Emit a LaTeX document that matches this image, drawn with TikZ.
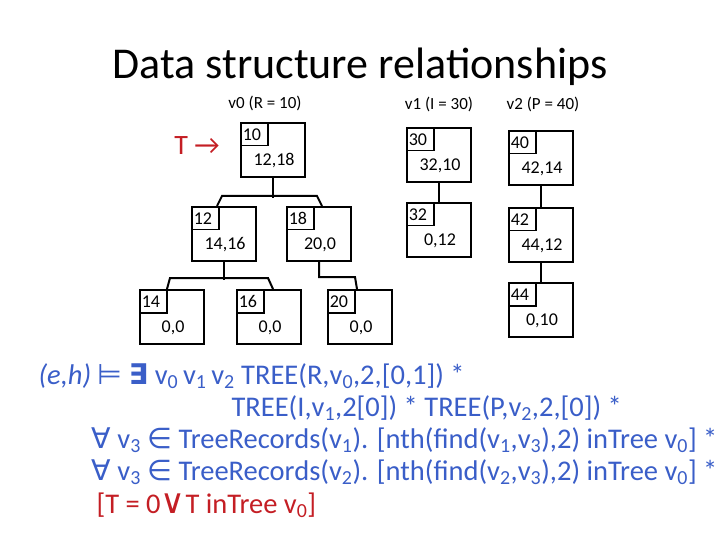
\documentclass[tikz,border=0pt]{standalone}
\usepackage{fontspec}
\setmainfont{Carlito}
\newfontfamily\symf{DejaVu Sans}
\usetikzlibrary{calc}
\definecolor{fblue}{RGB}{58,94,200}
\definecolor{fred}{RGB}{196,30,36}
\newcommand{\vv}[1]{v\textsubscript{#1}}
\tikzset{
  rec/.style={draw,line width=2pt,minimum width=64pt,minimum height=54pt,inner sep=0pt,anchor=north west},
  key/.style={draw,line width=1.5pt,minimum height=23pt,text width=23pt,inner sep=2pt,align=left,anchor=north west,font=\fontsize{18}{18}\selectfont},
  val/.style={font=\fontsize{18}{18}\selectfont},
  lab/.style={font=\fontsize{17}{17}\selectfont},
  link/.style={line width=2pt},
  fline/.style={anchor=base west,text=fblue,font=\fontsize{28.5}{28.5}\selectfont}
}
\begin{document}
\begin{tikzpicture}[x=1pt,y=-1pt]
\useasboundingbox (0,0) rectangle (720,540);
\node[anchor=base,font=\fontsize{44}{44}\selectfont] (title) at (360,79) {Data structure relationships};
% records
\node[rec] (n10) at (240,122) {};
\node[rec] (n30) at (406,127) {};
\node[rec] (n40) at (508,130) {};
\node[rec] (n12) at (191,206) {};
\node[rec] (n18) at (286,206) {};
\node[rec] (n32) at (406,202) {};
\node[rec] (n42) at (508,207) {};
\node[rec] (n14) at (139,289) {};
\node[rec] (n16) at (236,289) {};
\node[rec] (n20) at (327,289) {};
\node[rec] (n44) at (508,282) {};
\node[key] (k10) at (n10.north west) {10};
\node[key] (k30) at (n30.north west) {30};
\node[key] (k40) at (n40.north west) {40};
\node[key] (k12) at (n12.north west) {12};
\node[key] (k18) at (n18.north west) {18};
\node[key] (k32) at (n32.north west) {32};
\node[key] (k42) at (n42.north west) {42};
\node[key] (k14) at (n14.north west) {14};
\node[key] (k16) at (n16.north west) {16};
\node[key] (k20) at (n20.north west) {20};
\node[key] (k44) at (n44.north west) {44};
\node[val] at ($(n10.center)+(1,11)$) {12,18};
\node[val] at ($(n30.center)+(1,11)$) {32,10};
\node[val] at ($(n40.center)+(1,11)$) {42,14};
\node[val] at ($(n12.center)+(1,11)$) {14,16};
\node[val] at ($(n18.center)+(1,11)$) {20,0};
\node[val] at ($(n32.center)+(1,11)$) {0,12};
\node[val] at ($(n42.center)+(1,11)$) {44,12};
\node[val] at ($(n14.center)+(1,11)$) {0,0};
\node[val] at ($(n16.center)+(1,11)$) {0,0};
\node[val] at ($(n20.center)+(1,11)$) {0,0};
\node[val] at ($(n44.center)+(1,11)$) {0,10};
% labels
\node[lab] (l0) at (265,103) {v0 (R = 10)};
\node[lab] (l1) at (439,104) {v1 (I = 30)};
\node[lab] (l2) at (543,104) {v2 (P = 40)};
\node[text=fred,font=\fontsize{28}{28}\selectfont] (tp) at (197,146) {T →};
% links
\draw[link] (n10.south) -- ++(0,20);
\draw[link] ($(n12.north west)+(26,0)$) -- ++(5,-10) -- ($(n18.north west)+(31,-10)$) -- ($(n18.north west)+(36,0)$);
\draw[link] (n12.south) -- ++(0,18);
\draw[link] ($(n14.north west)+(28,0)$) -- ++(3,-11) -- ($(n16.north west)+(32,-11)$) -- ($(n16.north west)+(37,0)$);
\draw[link] (n18.south) |- ($(n20.north west)+(28,-12)$) -- ($(n20.north west)+(30,0)$);
\draw[link] (n30.south) -- (n32.north);
\draw[link] (n40.south) -- (n42.north);
\draw[link] (n42.south) -- (n44.north);
% formula
\node[fline] (f1) at (35,384) {\textit{(e,h)} {\symf ⊨} {\symf\bfseries ∃} \vv0\,\vv1\,\vv2 TREE(R,\vv0,2,[0,1]) *};
\node[fline] (f2) at (228,416) {TREE(I,\vv1,2[0]) * TREE(P,\vv2,2,[0]) *};
\node[fline] (f3) at (88,448) {{\symf ∀} \vv3 {\symf ∈} TreeRecords(\vv1). [nth(find(\vv1,\vv3),2) inTree \vv0] *};
\node[fline] (f4) at (88,480) {{\symf ∀} \vv3 {\symf ∈} TreeRecords(\vv2). [nth(find(\vv2,\vv3),2) inTree \vv0] *};
\node[fline,text=fred] (f5) at (93,513) {[T = 0{\symf\fontsize{34}{34}\selectfont ∨}T inTree \vv0]};
\end{tikzpicture}
\end{document}
